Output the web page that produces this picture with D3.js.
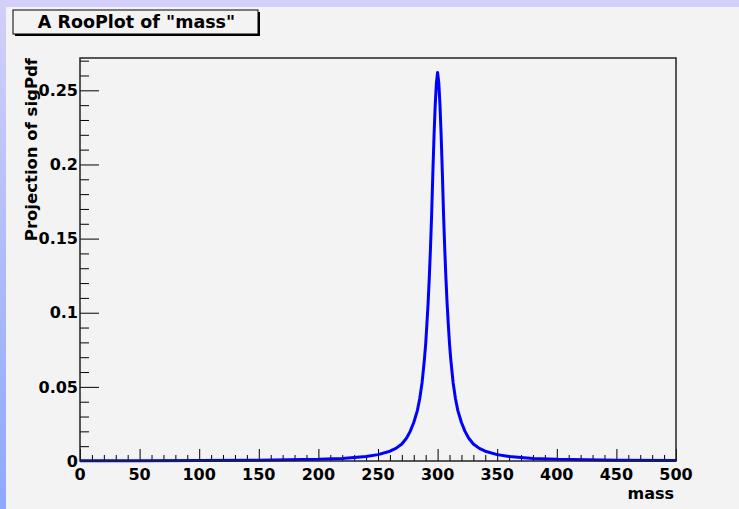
<!DOCTYPE html>
<html>
<head>
<meta charset="utf-8">
<script src="https://cdn.jsdelivr.net/npm/d3@7"></script>
<style>
  html, body { margin: 0; padding: 0; background: #f3f3f3; }
  svg { display: block; font-family: "DejaVu Sans", "Liberation Sans", Arial, sans-serif; }
</style>
</head>
<body>
<svg id="chart" width="739" height="509"></svg>
<script>
// Projection of the signal pdf along "mass"
const mass = [
  0, 50, 100, 150, 200, 220, 240, 250, 260, 265, 270, 274, 277, 280, 283, 285,
  287, 288, 289, 290, 291, 292, 293, 294, 295, 296, 297, 298, 299, 300,
  301, 302, 303, 304, 305, 306, 307, 308, 309, 310, 311, 312, 313, 315,
  317, 320, 323, 326, 330, 335, 340, 350, 360, 380, 400, 450, 500
];
const sigPdf = [
  0.0001, 0.0002, 0.0003, 0.0005, 0.0011, 0.0017, 0.0030, 0.0043, 0.0066, 0.0085, 0.0115, 0.0155, 0.0200, 0.0260, 0.0340, 0.0420,
  0.0530, 0.0610, 0.0690, 0.0790, 0.0920, 0.1060, 0.1230, 0.1430, 0.1660, 0.1940, 0.2190, 0.2400, 0.2550, 0.2620,
  0.2550, 0.2400, 0.2190, 0.1940, 0.1660, 0.1430, 0.1230, 0.1060, 0.0920, 0.0790, 0.0690, 0.0610, 0.0530, 0.0420,
  0.0340, 0.0260, 0.0200, 0.0155, 0.0115, 0.0085, 0.0066, 0.0043, 0.0030, 0.0017, 0.0011, 0.0005, 0.0003
];

const xMajorTicks = [0, 50, 100, 150, 200, 250, 300, 350, 400, 450, 500];
const yMajorTicks = [0, 0.05, 0.1, 0.15, 0.2, 0.25];
const yTickLabels = ["0", "0.05", "0.1", "0.15", "0.2", "0.25"];

const titleText = 'A RooPlot of "mass"';
const xTitle = "mass";
const yTitle = "Projection of sigPdf";

const W = 739, H = 509;
const frame = { left: 80, right: 676, top: 58, bottom: 461 };
const FS = 16;

const svg = d3.select("#chart");

// canvas background with the window edges
const defs = svg.append("defs");
const grad = defs.append("linearGradient").attr("id", "edge")
  .attr("x1", 0).attr("y1", 0).attr("x2", 0).attr("y2", 1);
grad.append("stop").attr("offset", "0%").attr("stop-color", "#d2d0fa");
grad.append("stop").attr("offset", "100%").attr("stop-color", "#8ea8fa");

svg.append("rect").attr("x", 0).attr("y", 0).attr("width", W).attr("height", H).attr("fill", "#f3f3f3");
svg.append("rect").attr("x", 0).attr("y", 0).attr("width", 6).attr("height", H).attr("fill", "url(#edge)");
svg.append("rect").attr("x", 0).attr("y", 0).attr("width", W).attr("height", 7).attr("fill", "#d2d0fa");

const x = d3.scaleLinear().domain([0, 500]).range([frame.left, frame.right]);
const y = d3.scaleLinear().domain([0, 0.2718]).range([frame.bottom, frame.top]);

// x axis: ticks pointing up into the frame
const xAxis = d3.axisBottom(x)
  .tickValues(d3.range(0, 501, 10))
  .tickSize(0).tickFormat("");
const gx = svg.append("g").attr("transform", `translate(0,${frame.bottom})`).call(xAxis);
gx.select(".domain").remove();
gx.selectAll(".tick line")
  .attr("y2", d => (d % 50 === 0 ? -12 : -6))
  .attr("stroke", "#000").attr("stroke-width", 1);

svg.append("g").selectAll("text").data(xMajorTicks).join("text")
  .attr("x", d => x(d)).attr("y", 480)
  .attr("text-anchor", "middle")
  .attr("font-size", FS).attr("font-weight", "bold").attr("fill", "#000")
  .text(d => d);

// y axis: ticks pointing right into the frame
const yMinor = d3.range(0, 28).map(i => i / 100);
const yAxis = d3.axisLeft(y).tickValues(yMinor).tickSize(0).tickFormat("");
const gy = svg.append("g").attr("transform", `translate(${frame.left},0)`).call(yAxis);
gy.select(".domain").remove();
gy.selectAll(".tick line")
  .attr("x2", (d, i) => (i % 5 === 0 ? 19 : 9))
  .attr("stroke", "#000").attr("stroke-width", 1);

svg.append("g").selectAll("text").data(yMajorTicks).join("text")
  .attr("x", 78).attr("y", d => y(d))
  .attr("dy", "0.36em")
  .attr("text-anchor", "end")
  .attr("font-size", FS).attr("font-weight", "bold").attr("fill", "#000")
  .text((d, i) => yTickLabels[i]);

// pdf curve
const line = d3.line().x((d, i) => x(mass[i])).y(d => y(d));
svg.append("path")
  .datum(sigPdf)
  .attr("d", line)
  .attr("fill", "none")
  .attr("stroke", "#0000ff")
  .attr("stroke-width", 3)
  .attr("stroke-linejoin", "round");

// frame
svg.append("rect")
  .attr("x", frame.left).attr("y", frame.top)
  .attr("width", frame.right - frame.left).attr("height", frame.bottom - frame.top)
  .attr("fill", "none").attr("stroke", "#222").attr("stroke-width", 1.5);

// axis titles
svg.append("text")
  .attr("x", frame.right - 2).attr("y", 499)
  .attr("text-anchor", "end")
  .attr("font-size", FS).attr("font-weight", "bold").attr("fill", "#000")
  .text(xTitle);

svg.append("text")
  .attr("transform", `translate(37,${frame.top}) rotate(-90)`)
  .attr("text-anchor", "end")
  .attr("font-size", FS + 0.5).attr("font-weight", "bold").attr("fill", "#000")
  .text(yTitle);

// title box with drop shadow edges
const tb = { x: 13, y: 10, w: 245, h: 24 };
svg.append("rect")
  .attr("x", tb.x + 2).attr("y", tb.y + 2).attr("width", tb.w).attr("height", tb.h)
  .attr("fill", "#000");
svg.append("rect")
  .attr("x", tb.x).attr("y", tb.y).attr("width", tb.w).attr("height", tb.h)
  .attr("fill", "#f3f3f3").attr("stroke", "#000").attr("stroke-width", 1);
svg.append("text")
  .attr("x", tb.x + tb.w / 2 + 1).attr("y", 28)
  .attr("text-anchor", "middle")
  .attr("font-size", 17.5).attr("font-weight", "bold").attr("fill", "#000")
  .text(titleText);
</script>
</body>
</html>
